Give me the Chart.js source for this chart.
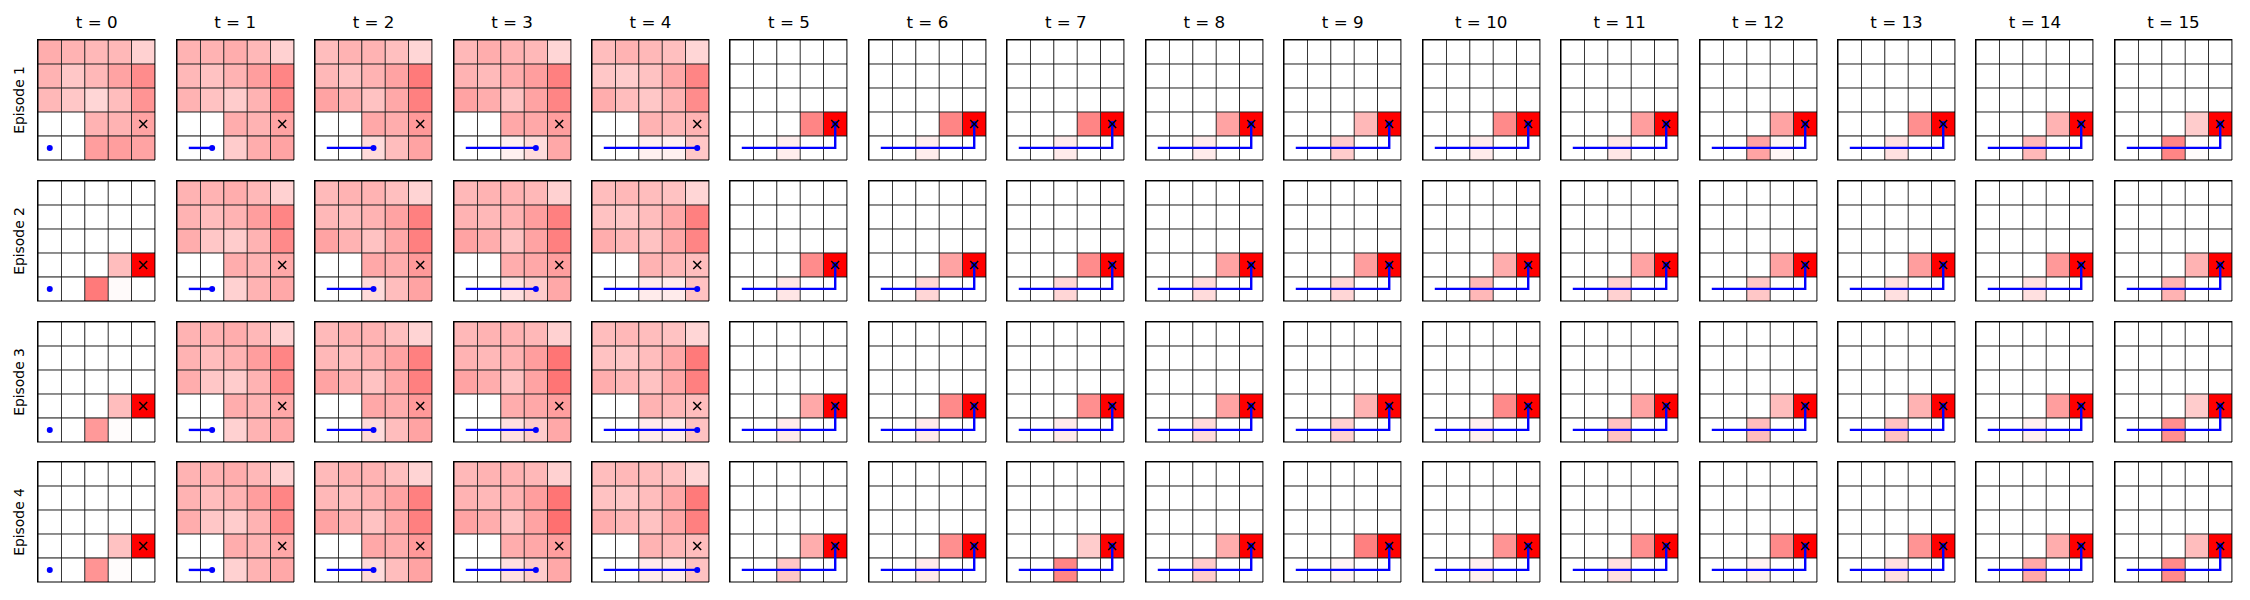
<!DOCTYPE html>
<html>
<head>
<meta charset="utf-8">
<script src="https://cdn.jsdelivr.net/npm/chart.js@4.4.1/dist/chart.umd.min.js"></script>
<style>
    body { margin: 0; background: #fff; width: 2250px; height: 600px; position: relative; overflow: hidden; font-family: "DejaVu Sans", sans-serif; }
    canvas { position: absolute; }
    .title { position: absolute; width: 120px; text-align: center; font-size: 16.7px; line-height: 16.7px; color: #000; white-space: nowrap; }
    .ylabel { position: absolute; width: 200px; height: 13.9px; text-align: center; font-size: 13.9px; line-height: 13.9px; color: #000; transform: rotate(-90deg); white-space: nowrap; }
</style>
</head>
<body>
<script>
{
    // ---- data (cell intensity in %, rows listed top -> bottom) ----
    const time_steps = ['t = 0', 't = 1', 't = 2', 't = 3', 't = 4', 't = 5', 't = 6', 't = 7',
        't = 8', 't = 9', 't = 10', 't = 11', 't = 12', 't = 13', 't = 14', 't = 15'];
    const episode_labels = ['Episode 1', 'Episode 2', 'Episode 3', 'Episode 4'];
    const columns = ['0', '1', '2', '3', '4'];
    const goal_cell = [4, 1];
    // cells visited by the agent, [column, row] with row 0 at the bottom
    const agent_path = [[0, 0], [1, 0], [2, 0], [3, 0], [4, 0], [4, 1]];

    const E = [0, 0, 0, 0, 0];

    const episode1 = [
        [[32, 30, 28, 28, 18], [30, 22, 28, 36, 45], [28, 22, 16, 26, 42], [0, 0, 30, 30, 36], [0, 0, 38, 38, 36]],
        [[30, 30, 32, 28, 18], [28, 24, 30, 38, 48], [30, 24, 20, 30, 46], [0, 0, 32, 30, 36], [0, 0, 20, 32, 36]],
        [[26, 30, 30, 25, 16], [28, 24, 30, 36, 52], [36, 30, 24, 34, 50], [0, 0, 34, 32, 40], [0, 0, 14, 26, 36]],
        [[28, 32, 30, 28, 16], [30, 27, 32, 38, 50], [36, 32, 24, 36, 48], [0, 0, 34, 34, 38], [0, 0, 6, 14, 34]],
        [[26, 30, 28, 25, 16], [22, 20, 24, 34, 48], [32, 26, 22, 30, 45], [0, 0, 30, 28, 30], [0, 0, 6, 6, 22]],
        [E, E, E, [0, 0, 0, 48, 100], [0, 0, 7, 0, 0]],
        [E, E, E, [0, 0, 0, 48, 100], [0, 0, 7, 0, 0]],
        [E, E, E, [0, 0, 0, 48, 100], [0, 0, 8, 0, 0]],
        [E, E, E, [0, 0, 0, 36, 100], [0, 0, 8, 0, 0]],
        [E, E, E, [0, 0, 0, 28, 100], [0, 0, 20, 0, 0]],
        [E, E, E, [0, 0, 0, 46, 100], [0, 0, 8, 0, 0]],
        [E, E, E, [0, 0, 0, 38, 100], [0, 0, 10, 0, 0]],
        [E, E, E, [0, 0, 0, 36, 100], [0, 0, 36, 3, 0]],
        [E, E, E, [0, 0, 0, 44, 100], [0, 0, 12, 0, 0]],
        [E, E, E, [0, 0, 0, 30, 100], [0, 0, 28, 0, 0]],
        [E, E, E, [0, 0, 0, 20, 100], [0, 0, 48, 1, 0]],
    ];

    const episode2 = [
        [E, E, E, [0, 0, 0, 26, 100], [0, 0, 52, 2, 0]],
        [[30, 30, 32, 28, 18], [30, 26, 30, 38, 48], [32, 22, 20, 30, 46], [0, 0, 32, 30, 34], [0, 0, 18, 30, 34]],
        [[27, 30, 30, 25, 17], [28, 26, 30, 36, 50], [36, 30, 24, 34, 50], [0, 0, 34, 32, 40], [0, 0, 14, 26, 36]],
        [[28, 30, 30, 28, 18], [30, 28, 30, 38, 50], [36, 32, 24, 36, 50], [0, 0, 32, 34, 38], [0, 0, 12, 20, 34]],
        [[26, 28, 26, 24, 16], [24, 22, 26, 34, 50], [32, 28, 24, 34, 48], [0, 0, 30, 28, 26], [0, 0, 8, 8, 24]],
        [E, E, E, [0, 0, 0, 45, 100], [0, 0, 10, 0, 0]],
        [E, E, E, [0, 0, 0, 36, 100], [0, 0, 16, 0, 0]],
        [E, E, E, [0, 0, 0, 45, 100], [0, 0, 16, 0, 0]],
        [E, E, E, [0, 0, 0, 36, 100], [0, 0, 14, 0, 0]],
        [E, E, E, [0, 0, 0, 38, 100], [0, 0, 16, 0, 0]],
        [E, E, E, [0, 0, 0, 32, 100], [0, 0, 28, 0, 0]],
        [E, E, E, [0, 0, 0, 36, 100], [0, 0, 18, 0, 0]],
        [E, E, E, [0, 0, 0, 36, 100], [0, 0, 22, 0, 0]],
        [E, E, E, [0, 0, 0, 38, 100], [0, 0, 12, 0, 0]],
        [E, E, E, [0, 0, 0, 40, 100], [0, 0, 12, 0, 0]],
        [E, E, E, [0, 0, 0, 30, 100], [0, 0, 30, 0, 0]],
    ];

    const episode3 = [
        [E, E, E, [0, 0, 0, 26, 100], [0, 0, 40, 1, 0]],
        [[30, 30, 32, 28, 18], [30, 26, 30, 38, 48], [32, 22, 20, 30, 46], [0, 0, 32, 30, 34], [0, 0, 18, 30, 34]],
        [[27, 30, 30, 25, 17], [28, 26, 30, 36, 50], [36, 30, 24, 34, 50], [0, 0, 34, 32, 40], [0, 0, 14, 26, 36]],
        [[28, 30, 30, 28, 18], [30, 28, 30, 38, 54], [36, 32, 24, 36, 54], [0, 0, 32, 34, 38], [0, 0, 12, 20, 34]],
        [[26, 28, 26, 24, 16], [24, 22, 26, 34, 52], [32, 28, 24, 34, 50], [0, 0, 30, 28, 26], [0, 0, 8, 8, 24]],
        [E, E, E, [0, 0, 0, 34, 100], [0, 0, 8, 0, 0]],
        [E, E, E, [0, 0, 0, 46, 100], [0, 0, 8, 0, 0]],
        [E, E, E, [0, 0, 0, 44, 100], [0, 0, 8, 0, 0]],
        [E, E, E, [0, 0, 0, 36, 100], [0, 0, 14, 0, 0]],
        [E, E, E, [0, 0, 0, 30, 100], [0, 0, 18, 0, 0]],
        [E, E, E, [0, 0, 0, 46, 100], [0, 0, 6, 0, 0]],
        [E, E, E, [0, 0, 0, 36, 100], [0, 0, 24, 0, 0]],
        [E, E, E, [0, 0, 0, 26, 100], [0, 0, 26, 0, 0]],
        [E, E, E, [0, 0, 0, 30, 100], [0, 0, 24, 0, 0]],
        [E, E, E, [0, 0, 0, 38, 100], [0, 0, 6, 0, 0]],
        [E, E, E, [0, 0, 0, 20, 100], [0, 0, 44, 0, 0]],
    ];

    const episode4 = [
        [E, E, E, [0, 0, 0, 24, 100], [0, 0, 42, 1, 0]],
        [[30, 30, 32, 28, 18], [30, 26, 30, 38, 48], [32, 22, 20, 30, 46], [0, 0, 32, 30, 34], [0, 0, 18, 30, 34]],
        [[27, 30, 30, 25, 17], [28, 26, 30, 36, 50], [36, 30, 24, 34, 50], [0, 0, 34, 32, 40], [0, 0, 14, 26, 36]],
        [[28, 30, 30, 28, 18], [30, 28, 30, 38, 54], [36, 32, 24, 36, 56], [0, 0, 32, 34, 38], [0, 0, 12, 20, 34]],
        [[26, 28, 26, 24, 16], [24, 22, 26, 34, 52], [32, 28, 24, 34, 50], [0, 0, 30, 28, 26], [0, 0, 8, 8, 24]],
        [E, E, E, [0, 0, 0, 32, 100], [0, 0, 22, 0, 0]],
        [E, E, E, [0, 0, 0, 44, 100], [0, 0, 8, 0, 0]],
        [E, E, E, [0, 0, 0, 20, 100], [0, 0, 48, 0, 0]],
        [E, E, E, [0, 0, 0, 32, 100], [0, 0, 20, 0, 0]],
        [E, E, E, [0, 0, 0, 50, 100], [0, 0, 4, 0, 0]],
        [E, E, E, [0, 0, 0, 42, 100], [0, 0, 6, 0, 0]],
        [E, E, E, [0, 0, 0, 44, 100], [0, 0, 12, 0, 0]],
        [E, E, E, [0, 0, 0, 46, 100], [0, 0, 5, 0, 0]],
        [E, E, E, [0, 0, 0, 42, 100], [0, 0, 12, 0, 0]],
        [E, E, E, [0, 0, 0, 32, 100], [0, 0, 34, 0, 0]],
        [E, E, E, [0, 0, 0, 26, 100], [0, 0, 46, 0, 0]],
    ];

    // ---- layout ----
    const left0 = 35.2, step_x = 138.45, top0 = 36.7, step_y = 140.9;
    const panel_w = 123, panel_h = 126, pad = 4;

    const cell_color = (v) => {
        const c = Math.round(255 * (1 - v / 100));
        return `rgb(255,${c},${c})`;
    };

    const frame_axis = (extra) => Object.assign({
        display: true,
        grid: { display: false, drawTicks: false },
        ticks: { display: false },
        border: { display: true, color: '#000', width: 1.4 },
    }, extra);

    const draw_panel = (grid, ep, t) => {
        const left = Math.round(left0 + step_x * t);
        const top = Math.round(top0 + step_y * ep);

        const canvas = document.createElement('canvas');
        canvas.width = panel_w + 2 * pad;
        canvas.height = panel_h + 2 * pad;
        canvas.style.left = (left - pad) + 'px';
        canvas.style.top = (top - pad) + 'px';
        document.body.appendChild(canvas);

        const datasets = [];
        // one floating-bar dataset per grid row (row 0 at the bottom)
        for (let r = 0; r < 5; r++) {
            const row = grid[4 - r];
            datasets.push({
                type: 'bar',
                data: columns.map(() => [r, r + 1]),
                backgroundColor: row.map(cell_color),
                borderColor: 'rgba(0,0,0,0.85)',
                borderWidth: 0.8,
                borderSkipped: false,
                grouped: false,
                categoryPercentage: 1,
                barPercentage: 1,
                order: 3,
            });
        }

        const steps = agent_path.slice(0, Math.min(t, agent_path.length - 1) + 1);
        datasets.push({
            type: 'line',
            data: steps.map(([c, r]) => ({ x: columns[c], y: r + 0.5 })),
            borderColor: '#0000ff',
            borderWidth: 2.4,
            backgroundColor: '#0000ff',
            pointBackgroundColor: '#0000ff',
            pointBorderWidth: 0,
            pointRadius: steps.map((s, i) => (i === steps.length - 1 ? 3 : 0)),
            tension: 0,
            fill: false,
            order: 2,
        });

        datasets.push({
            type: 'line',
            showLine: false,
            data: [{ x: columns[goal_cell[0]], y: goal_cell[1] + 0.5 }],
            pointStyle: 'crossRot',
            pointRadius: 5.6,
            pointBorderColor: '#000',
            borderColor: '#000',
            pointBorderWidth: 1.5,
            order: 1,
        });

        new Chart(canvas, {
            type: 'bar',
            data: { labels: columns, datasets: datasets },
            options: {
                responsive: false,
                animation: false,
                events: [],
                layout: { padding: pad },
                scales: {
                    x: frame_axis({ type: 'category', position: 'bottom' }),
                    xTop: frame_axis({ type: 'category', position: 'top' }),
                    y: frame_axis({ type: 'linear', position: 'left', min: 0, max: 5 }),
                    yRight: frame_axis({ type: 'linear', position: 'right', min: 0, max: 5 }),
                },
                plugins: {
                    legend: { display: false },
                    tooltip: { enabled: false },
                },
            },
        });
    };

    const add_texts = () => {
        time_steps.forEach((label, t) => {
            const div = document.createElement('div');
            div.className = 'title';
            div.textContent = label;
            const cx = left0 + step_x * t + panel_w / 2;
            div.style.left = (cx - 60) + 'px';
            div.style.top = '14.3px';
            document.body.appendChild(div);
        });
        episode_labels.forEach((label, ep) => {
            const div = document.createElement('div');
            div.className = 'ylabel';
            div.textContent = label;
            const cy = top0 + step_y * ep + panel_h / 2;
            div.style.left = (19.5 - 100) + 'px';
            div.style.top = (cy - 6.95) + 'px';
            document.body.appendChild(div);
        });
    };

    const init = () => {
        const episodes = [episode1, episode2, episode3, episode4];
        episodes.forEach((grids, ep) => {
            grids.forEach((grid, t) => draw_panel(grid, ep, t));
        });
        add_texts();
    };

    init();
}
</script>
</body>
</html>
